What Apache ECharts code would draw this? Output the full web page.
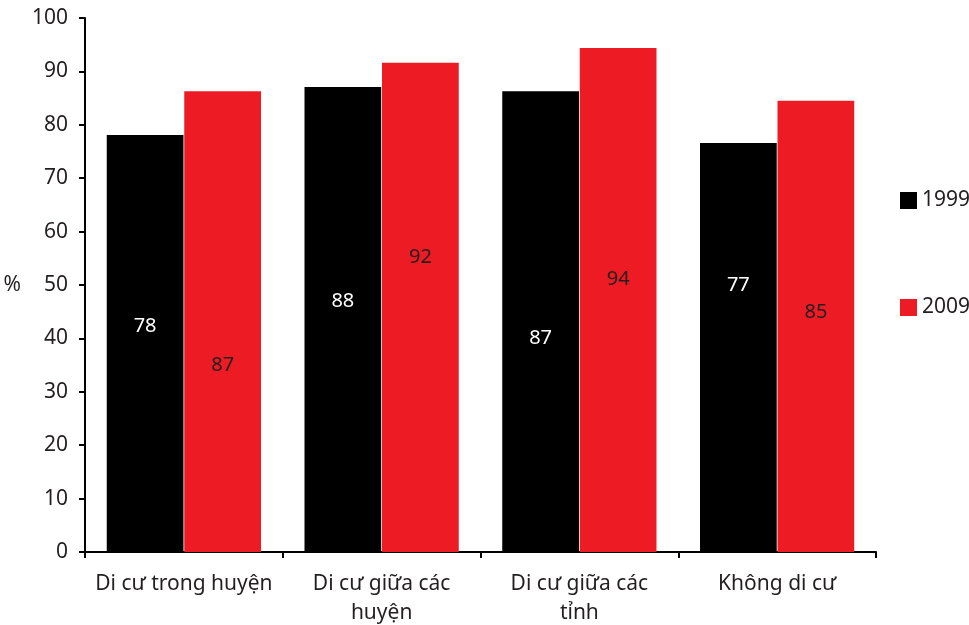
<!DOCTYPE html>
<html>
<head>
<meta charset="utf-8">
<script src="https://cdn.jsdelivr.net/npm/echarts@6/dist/echarts.min.js"></script>
<style>
  html, body { margin: 0; padding: 0; background: #fff; }
  #chart { width: 969px; height: 625px; }
</style>
</head>
<body>
<div id="chart"></div>
<script>
// data
var categories = ['Di cư trong huyện', 'Di cư giữa các\nhuyện', 'Di cư giữa các\ntỉnh', 'Không di cư'];
var seriesNames = ['1999', '2009'];
var values1999 = [78.1, 87.1, 86.3, 76.6];
var values2009 = [86.3, 91.6, 94.4, 84.5];
var labels1999 = ['78', '88', '87', '77'];
var labels2009 = ['87', '92', '94', '85'];

// where each value label sits inside its bar (fraction of bar height from top)
var labelPos1999 = ['45.8%', '46.2%', '53.6%', '34.7%'];
var labelPos2009 = ['59.4%', '39.7%', '46%', '46.8%'];

var FONT = '"Noto Sans", sans-serif';
var RED = '#ED1C24';
var INK = '#231f20';

function buildData(values, labels, pos, color) {
    return values.map(function (v, i) {
        return {
            value: v,
            label: {
                show: true,
                position: ['50%', pos[i]],
                align: 'center',
                verticalAlign: 'middle',
                formatter: labels[i],
                color: color,
                fontSize: 20,
                fontFamily: FONT
            }
        };
    });
}

var myChart = echarts.init(document.getElementById('chart'));
myChart.setOption({
    animation: false,
    grid: {left: 85, right: 93, top: 18, bottom: 73, outerBoundsMode: 'none'},
    legend: {
        orient: 'vertical',
        left: 895,
        top: 185,
        itemWidth: 17,
        itemHeight: 17,
        itemGap: 86,
        icon: 'rect',
        textStyle: {fontSize: 21, fontFamily: FONT, color: INK},
        data: seriesNames
    },
    xAxis: {
        type: 'category',
        data: categories,
        axisLine: {lineStyle: {color: '#000', width: 2}},
        axisTick: {show: true, length: 6, lineStyle: {color: '#000', width: 2}},
        axisLabel: {
            color: INK,
            fontSize: 21,
            fontFamily: FONT,
            margin: 18,
            lineHeight: 29,
            interval: 0
        }
    },
    yAxis: {
        type: 'value',
        min: 0,
        max: 100,
        interval: 10,
        name: '%',
        nameLocation: 'middle',
        nameRotate: 0,
        nameGap: 64,
        nameTextStyle: {fontSize: 21, fontFamily: FONT, color: INK},
        axisLine: {show: true, lineStyle: {color: '#000', width: 2}},
        axisTick: {show: true, length: 6, lineStyle: {color: '#000', width: 2}},
        axisLabel: {fontSize: 21, fontFamily: FONT, color: INK, margin: 17},
        splitLine: {show: false}
    },
    series: [
        {
            name: seriesNames[0],
            type: 'bar',
            barGap: '1%',
            barCategoryGap: '22%',
            itemStyle: {color: '#000'},
            data: buildData(values1999, labels1999, labelPos1999, '#fff')
        },
        {
            name: seriesNames[1],
            type: 'bar',
            itemStyle: {color: RED},
            data: buildData(values2009, labels2009, labelPos2009, INK)
        }
    ]
});
</script>
</body>
</html>
